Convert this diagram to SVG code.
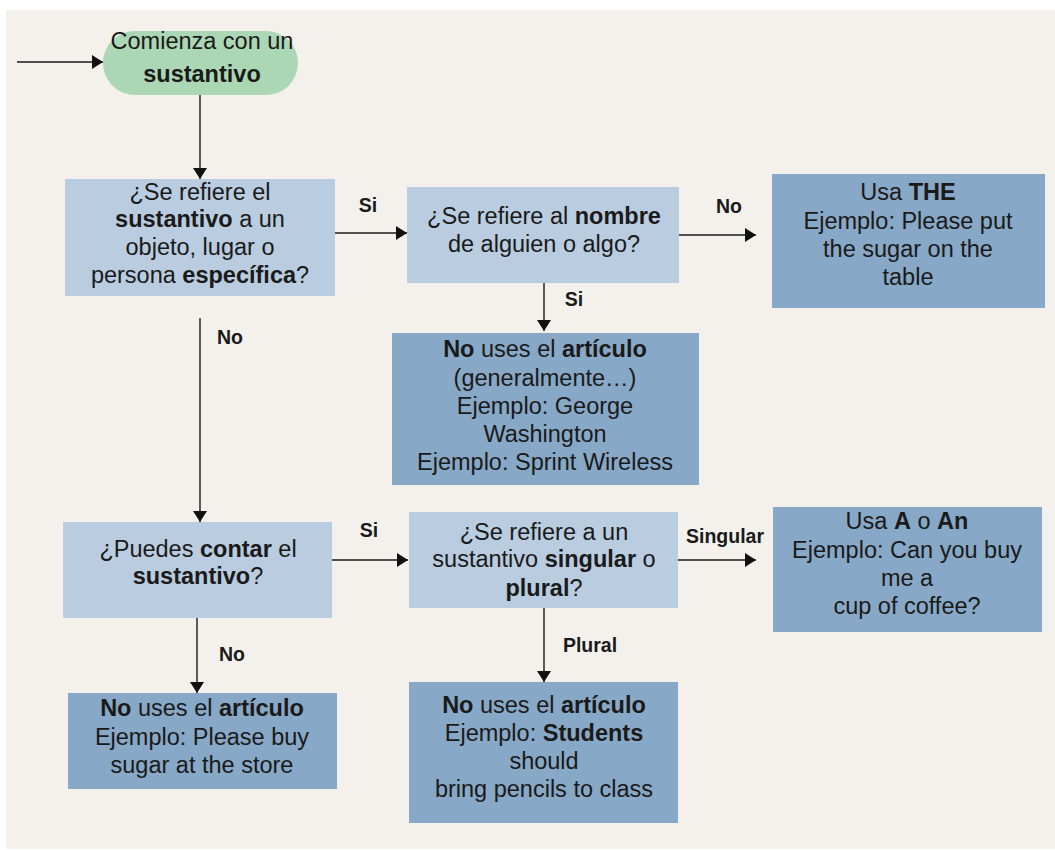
<svg xmlns="http://www.w3.org/2000/svg" width="1055" height="850" viewBox="0 0 1055 850">
<defs>
<marker id="arr" markerUnits="userSpaceOnUse" markerWidth="12" markerHeight="14" refX="11" refY="7" orient="auto">
<path d="M0,0 L11,7 L0,14 z" fill="#111"/>
</marker>
<style>
.t{font-family:"Liberation Sans",Arial,sans-serif;font-size:23.5px;fill:#1a1a1a;text-anchor:middle}
.b{font-weight:bold}
.lbl{font-family:"Liberation Sans",Arial,sans-serif;font-size:19.5px;font-weight:bold;fill:#1a1a1a;text-anchor:middle}
.q{fill:#b9cce0}
.a{fill:#87a8c6}
.c{stroke:#1a1a1a;stroke-width:1.4;fill:none;marker-end:url(#arr)}
</style>
</defs>
<rect x="0" y="0" width="1055" height="850" fill="#ffffff"/>
<rect x="6" y="10" width="1049" height="839" fill="#f4f1ec"/>

<g id="connectors">
<line class="c" x1="17" y1="62" x2="103" y2="62"/>
<line class="c" x1="200" y1="95" x2="200" y2="179"/>
<line class="c" x1="335" y1="233" x2="407" y2="233"/>
<line class="c" x1="679" y1="235" x2="756" y2="235"/>
<line class="c" x1="544" y1="283" x2="544" y2="331"/>
<line class="c" x1="200" y1="318" x2="200" y2="522"/>
<line class="c" x1="332" y1="560" x2="408" y2="560"/>
<line class="c" x1="678" y1="560" x2="756" y2="560"/>
<line class="c" x1="197" y1="618" x2="197" y2="693"/>
<line class="c" x1="544" y1="608" x2="544" y2="682"/>
<text class="lbl" x="368" y="212">Si</text>
<text class="lbl" x="729" y="213">No</text>
<text class="lbl" x="574" y="306">Si</text>
<text class="lbl" x="230" y="344">No</text>
<text class="lbl" x="369" y="537">Si</text>
<text class="lbl" x="725" y="543">Singular</text>
<text class="lbl" x="232" y="661">No</text>
<text class="lbl" x="590" y="652">Plural</text>
</g>

<g id="start">
<rect x="103" y="31" width="195" height="64" rx="32" fill="#acd7b4"/>
<text class="t" x="202" y="49">Comienza con un</text>
<text class="t b" x="202" y="82">sustantivo</text>
</g>

<g id="q-especifica">
<rect class="q" x="65" y="179" width="270" height="117"/>
<text class="t" x="200" y="200">¿Se refiere el</text>
<text class="t" x="200" y="227"><tspan class="b">sustantivo</tspan> a un</text>
<text class="t" x="200" y="255">objeto, lugar o</text>
<text class="t" x="200" y="283">persona <tspan class="b">específica</tspan>?</text>
</g>

<g id="q-nombre">
<rect class="q" x="407" y="187" width="272" height="96"/>
<text class="t" x="544" y="224">¿Se refiere al <tspan class="b">nombre</tspan></text>
<text class="t" x="544" y="252">de alguien o algo?</text>
</g>

<g id="usa-the">
<rect class="a" x="772" y="174" width="273" height="134"/>
<text class="t" x="908" y="200">Usa <tspan class="b">THE</tspan></text>
<text class="t" x="908" y="229">Ejemplo: Please put</text>
<text class="t" x="908" y="257">the sugar on the</text>
<text class="t" x="908" y="285">table</text>
</g>

<g id="no-articulo-nombre">
<rect class="a" x="392" y="333" width="307" height="152"/>
<text class="t" x="545" y="357"><tspan class="b">No</tspan> uses el <tspan class="b">artículo</tspan></text>
<text class="t" x="545" y="386">(generalmente…)</text>
<text class="t" x="545" y="414">Ejemplo: George</text>
<text class="t" x="545" y="442">Washington</text>
<text class="t" x="545" y="470">Ejemplo: Sprint Wireless</text>
</g>

<g id="q-contar">
<rect class="q" x="63" y="522" width="269" height="96"/>
<text class="t" x="198" y="557">¿Puedes <tspan class="b">contar</tspan> el</text>
<text class="t" x="198" y="584"><tspan class="b">sustantivo</tspan>?</text>
</g>

<g id="q-singular">
<rect class="q" x="409" y="512" width="269" height="96"/>
<text class="t" x="544" y="540">¿Se refiere a un</text>
<text class="t" x="544" y="567">sustantivo <tspan class="b">singular</tspan> o</text>
<text class="t" x="544" y="596"><tspan class="b">plural</tspan>?</text>
</g>

<g id="usa-a-an">
<rect class="a" x="773" y="507" width="269" height="125"/>
<text class="t" x="907" y="529">Usa <tspan class="b">A</tspan> o <tspan class="b">An</tspan></text>
<text class="t" x="907" y="558">Ejemplo: Can you buy</text>
<text class="t" x="907" y="586">me a</text>
<text class="t" x="907" y="614">cup of coffee?</text>
</g>

<g id="no-articulo-incontable">
<rect class="a" x="68" y="693" width="269" height="96"/>
<text class="t" x="202" y="716"><tspan class="b">No</tspan> uses el <tspan class="b">artículo</tspan></text>
<text class="t" x="202" y="745">Ejemplo: Please buy</text>
<text class="t" x="202" y="773">sugar at the store</text>
</g>

<g id="no-articulo-plural">
<rect class="a" x="409" y="682" width="269" height="141"/>
<text class="t" x="544" y="713"><tspan class="b">No</tspan> uses el <tspan class="b">artículo</tspan></text>
<text class="t" x="544" y="741">Ejemplo: <tspan class="b">Students</tspan></text>
<text class="t" x="544" y="769">should</text>
<text class="t" x="544" y="797">bring pencils to class</text>
</g>
</svg>
